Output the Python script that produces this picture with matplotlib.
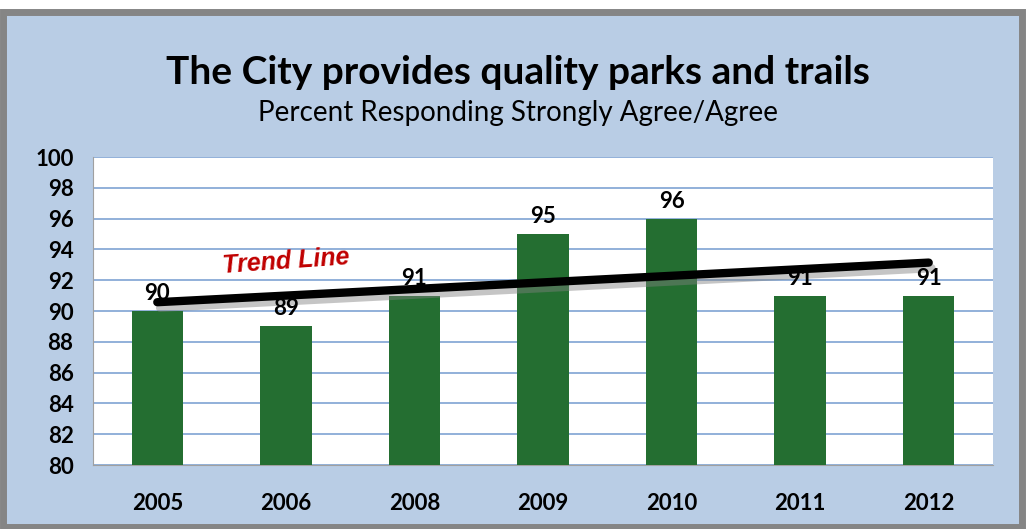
import numpy as np
import matplotlib.pyplot as plt
from matplotlib.patches import Rectangle
import matplotlib.patheffects as pe

years = ["2005", "2006", "2008", "2009", "2010", "2011", "2012"]
percent = [90, 89, 91, 95, 96, 91, 91]
yticks = list(range(80, 101, 2))

plt.rcParams['font.family'] = ['Lato', 'DejaVu Sans']

fig = plt.figure(figsize=(10.26, 5.29), dpi=100, facecolor="white")

# outer frame: gray border with light blue fill
fig.patches.append(Rectangle((3 / 1026, 2 / 529), 1019 / 1026, 515 / 529,
                             transform=fig.transFigure, facecolor="#B9CDE5",
                             edgecolor="#858585", linewidth=5, zorder=-1))

ax = fig.add_axes([93 / 1026, 64 / 529, 900 / 1026, 308 / 529])
ax.set_zorder(1)
ax.set_facecolor("white")

x = np.arange(len(years))
ax.bar(x, percent, width=0.4, color="#246E31", zorder=3)

for xi, v in zip(x, percent):
    ax.text(xi, v + 0.45, str(v), ha="center", va="bottom",
            fontsize=16, fontweight="bold", color="black", zorder=5)

# linear trend
slope, intercept = np.polyfit(x, percent, 1)
trend = slope * x + intercept
ax.plot([x[0], x[-1]], [trend[0], trend[-1]], color="black", linewidth=6,
        solid_capstyle="round", zorder=4,
        path_effects=[pe.SimpleLineShadow(offset=(2, -4), shadow_color="gray", alpha=0.45),
                      pe.Normal()])
ax.text(1.0, 93.2, "Trend Line", color="#C00000", fontsize=18,
        fontweight="bold", fontstyle="italic", ha="center", va="center",
        rotation=4, zorder=5, family=["Liberation Sans", "DejaVu Sans"])

ax.set_ylim(80, 100)
ax.set_xlim(-0.5, len(years) - 0.5)
ax.set_yticks(yticks)
ax.set_yticklabels([str(t) for t in yticks], fontsize=16, fontweight="bold")
ax.set_xticks(x)
ax.set_xticklabels(years, fontsize=16, fontweight="bold")
ax.tick_params(axis="both", length=0)
ax.tick_params(axis="x", pad=20)
ax.tick_params(axis="y", pad=14)
ax.grid(axis="y", color="#7FA3D3", linewidth=1.2, zorder=0)
for s in ["top", "right"]:
    ax.spines[s].set_visible(False)
ax.spines["left"].set_color("#A0A0A0")
ax.spines["bottom"].set_color("#A0A0A0")

fig.text(0.505, 1 - 72 / 529, "The City provides quality parks and trails",
         ha="center", va="center", fontsize=28, fontweight="bold")
fig.text(0.505, 1 - 113 / 529, "Percent Responding Strongly Agree/Agree",
         ha="center", va="center", fontsize=20)

fig.savefig("out.png", dpi=100, facecolor="white")
